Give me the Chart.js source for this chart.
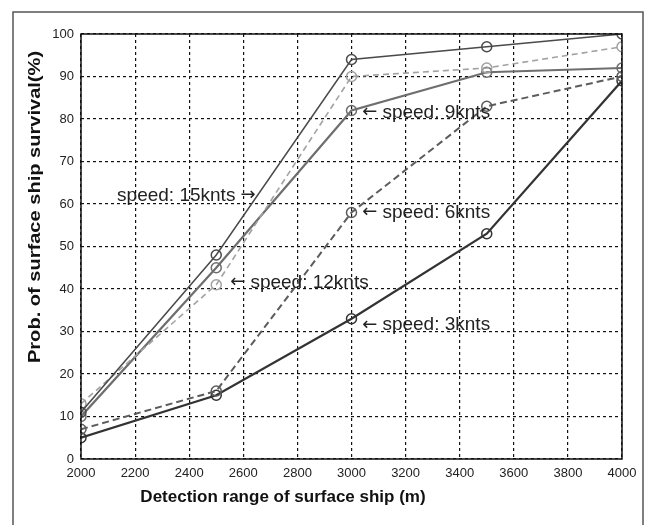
<!DOCTYPE html>
<html>
<head>
<meta charset="utf-8">
<script src="https://cdn.jsdelivr.net/npm/chart.js@4"></script>
<style>
  html, body { margin: 0; padding: 0; background: #fff; }
  canvas { display: block; }
</style>
</head>
<body>
<canvas id="survivalChart" width="645" height="525"></canvas>
<script>
"use strict";

// Detection range (m)
var ranges = [2000, 2500, 3000, 3500, 4000];

// Prob. of surface ship survival (%) per speed
var speed15 = [11, 48, 94, 97, 100];
var speed12 = [13, 41, 90, 92, 97];
var speed9 = [10, 45, 82, 91, 92];
var speed6 = [7, 16, 58, 83, 90];
var speed3 = [5, 15, 33, 53, 89];

// Text labels, anchored on data values; arrow side "left" or "right"
var noteTexts = ["speed: 15knts", "speed: 12knts", "speed: 9knts", "speed: 6knts", "speed: 3knts"];
var noteArrows = ["right", "left", "left", "left", "left"];
var noteX = [2645, 2552, 3040, 3040, 3040];
var noteY = [62, 41.5, 81.5, 58, 31.5];

var fontFamily = "'Liberation Sans', Arial, sans-serif";

function makeDataset(label, values, color, width, dash) {
    var points = [];
    for (let i = 0; i < ranges.length; i++) {
        points.push({ x: ranges[i], y: values[i] });
    }
    return {
        label: label,
        data: points,
        borderColor: color,
        borderWidth: width,
        borderDash: dash,
        backgroundColor: "rgba(0,0,0,0)",
        pointRadius: 5,
        pointBorderWidth: 1.5,
        pointBorderColor: color,
        pointBackgroundColor: "rgba(0,0,0,0)",
        tension: 0
    };
}

function drawNote(ctx, text, side, x, y) {
    var arrowFont = "18px 'DejaVu Sans', sans-serif";
    var textFont = "19px " + fontFamily;
    ctx.font = arrowFont;
    var arrow = side === "left" ? "\u2190" : "\u2192";
    var aw = ctx.measureText(arrow).width;
    ctx.font = textFont;
    var tw = ctx.measureText(text).width;
    var gap = 5;
    ctx.textAlign = "left";
    if (side === "left") {
        ctx.font = arrowFont;
        ctx.fillText(arrow, x, y);
        ctx.font = textFont;
        ctx.fillText(text, x + aw + gap, y);
    } else {
        ctx.font = textFont;
        ctx.fillText(text, x - aw - gap - tw, y);
        ctx.font = arrowFont;
        ctx.fillText(arrow, x - aw, y);
    }
}

// Outer frame, plot box, axis titles and notes
var decorations = {
    id: "decorations",
    beforeDraw: function (chart) {
        var ctx = chart.ctx;
        ctx.save();
        ctx.fillStyle = "#fff";
        ctx.fillRect(0, 0, chart.width, chart.height);
        ctx.strokeStyle = "#555";
        ctx.lineWidth = 1.5;
        ctx.beginPath();
        ctx.moveTo(13, chart.height);
        ctx.lineTo(13, 12);
        ctx.lineTo(643, 12);
        ctx.lineTo(643, chart.height);
        ctx.stroke();
        ctx.restore();
    },
    afterDatasetsDraw: function (chart) {
        var ctx = chart.ctx;
        var area = chart.chartArea;
        var xs = chart.scales.x;
        var ys = chart.scales.y;
        ctx.save();

        ctx.strokeStyle = "#111";
        ctx.lineWidth = 1.5;
        ctx.strokeRect(area.left, area.top, area.right - area.left, area.bottom - area.top);

        ctx.fillStyle = "#222";
        ctx.textBaseline = "middle";
        for (let i = 0; i < noteTexts.length; i++) {
            drawNote(ctx, noteTexts[i], noteArrows[i], xs.getPixelForValue(noteX[i]), ys.getPixelForValue(noteY[i]));
        }

        ctx.fillStyle = "#111";
        ctx.font = "bold 17px " + fontFamily;
        ctx.textAlign = "center";
        ctx.fillText("Detection range of surface ship (m)", 283, 497);

        ctx.translate(35, 207);
        ctx.rotate(-Math.PI / 2);
        ctx.scale(1.18, 1);
        ctx.fillText("Prob. of surface ship survival(%)", 0, 0);
        ctx.restore();
    }
};

window.onload = function () {
    var tickFont = { family: fontFamily, size: 13 };
    var config = {
        type: "line",
        data: {
            datasets: [
                makeDataset("speed: 15knts", speed15, "#4a4a4a", 1.5, []),
                makeDataset("speed: 12knts", speed12, "#a2a2a2", 1.6, [6, 4]),
                makeDataset("speed: 9knts", speed9, "#6e6e6e", 2.2, []),
                makeDataset("speed: 6knts", speed6, "#5c5c5c", 2, [7, 4]),
                makeDataset("speed: 3knts", speed3, "#333333", 2.2, [])
            ]
        },
        options: {
            responsive: false,
            animation: false,
            layout: {
                padding: { left: 0, right: 23, top: 34, bottom: 0 }
            },
            plugins: {
                legend: { display: false },
                title: { display: false },
                tooltip: { enabled: false }
            },
            scales: {
                x: {
                    type: "linear",
                    min: 2000,
                    max: 4000,
                    ticks: {
                        stepSize: 200,
                        padding: 7,
                        color: "#222",
                        font: tickFont,
                        callback: function (v) { return String(v); }
                    },
                    grid: { color: "#111", lineWidth: 1.2, drawTicks: false },
                    border: { display: false, dash: [3, 3] },
                    afterFit: function (scale) { scale.height = 66; }
                },
                y: {
                    min: 0,
                    max: 100,
                    ticks: {
                        stepSize: 10,
                        padding: 7,
                        color: "#222",
                        font: tickFont,
                        callback: function (v) { return String(v); }
                    },
                    grid: { color: "#111", lineWidth: 1.2, drawTicks: false },
                    border: { display: false, dash: [3, 3] },
                    afterFit: function (scale) { scale.width = 81; }
                }
            }
        },
        plugins: [decorations]
    };

    var ctx = document.getElementById("survivalChart").getContext("2d");
    new Chart(ctx, config);
};
</script>
</body>
</html>
